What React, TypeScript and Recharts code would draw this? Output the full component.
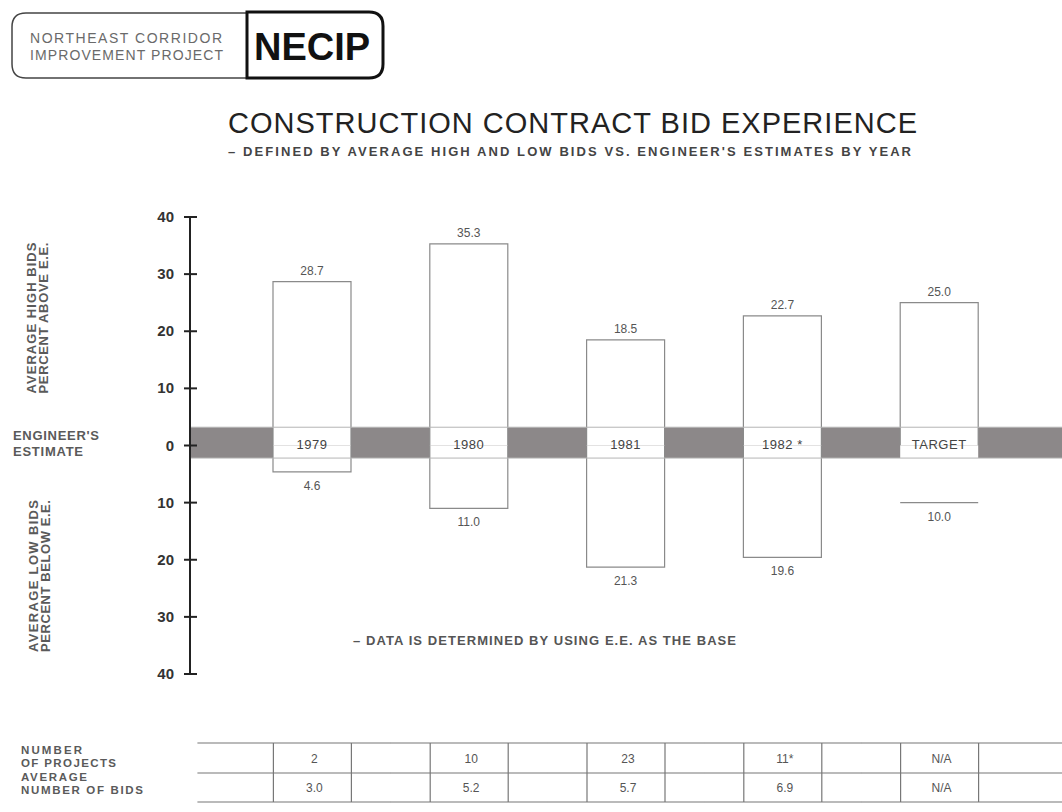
import {
  ComposedChart,
  Bar,
  XAxis,
  YAxis,
  ReferenceArea,
  ReferenceLine,
  LabelList,
} from 'recharts';

const years = ['1979', '1980', '1981', '1982 *', 'TARGET'];
const highBids = [28.7, 35.3, 18.5, 22.7, 25.0];
const lowBids = [4.6, 11.0, 21.3, 19.6, 10.0];
const projectCounts = ['2', '10', '23', '11*', 'N/A'];
const averageBidCounts = ['3.0', '5.2', '5.7', '6.9', 'N/A'];
const yTicks = [-40, -30, -20, -10, 0, 10, 20, 30, 40];

const rows = years.map((year, i) => ({
  year,
  high: highBids[i],
  low: -lowBids[i],
}));

const FONT = '"Liberation Sans", Arial, Helvetica, sans-serif';
const BAND_COLOR = '#8c8889';
const BOX_STROKE = '#8a8a8a';

function BidBox(props: any) {
  const { x, y, width, height, kind, payload } = props;
  const top = Math.min(y, y + height);
  const bottom = Math.max(y, y + height);
  const left = x;
  const right = x + width;
  let d: string;
  if (kind === 'high') {
    d = `M${left},${bottom}V${top}H${right}V${bottom}`;
  } else if (payload && payload.year === 'TARGET') {
    // target low is only marked by its bottom edge
    d = `M${left},${bottom}H${right}`;
  } else {
    d = `M${left},${top}V${bottom}H${right}V${top}`;
  }
  return (
    <g>
      <rect x={left} y={top} width={width} height={bottom - top} fill="#fff" />
      <path d={d} fill="none" stroke={BOX_STROKE} strokeWidth={1.2} />
    </g>
  );
}

function HighValueLabel(props: any) {
  const { x, y, width, height, value } = props;
  const top = Math.min(y, y + height);
  return (
    <text x={x + width / 2} y={top - 7} textAnchor="middle" fontSize={12} fill="#555" fontFamily={FONT}>
      {Math.abs(Number(value)).toFixed(1)}
    </text>
  );
}

function LowValueLabel(props: any) {
  const { x, y, width, height, value } = props;
  const bottom = Math.max(y, y + height);
  return (
    <text x={x + width / 2} y={bottom + 18} textAnchor="middle" fontSize={12} fill="#555" fontFamily={FONT}>
      {Math.abs(Number(value)).toFixed(1)}
    </text>
  );
}

function YearLabel(props: any) {
  const { x, y, width, height, value } = props;
  const base = Math.max(y, y + height);
  return (
    <text x={x + width / 2} y={base + 3} textAnchor="middle" fontSize={13} fill="#444" fontFamily={FONT} letterSpacing={0.5}>
      {value}
    </text>
  );
}

function YTick(props: any) {
  const { x, y, payload } = props;
  return (
    <g>
      <line x1={x - 6} x2={x + 7} y1={y} y2={y} stroke="#222" strokeWidth={2} />
      <text x={x - 16} y={y + 5} textAnchor="end" fontSize={15} fontWeight="bold" fill="#333" fontFamily={FONT}>
        {Math.abs(payload.value)}
      </text>
    </g>
  );
}

// the little table under the chart, one column per category
function TableTick(props: any) {
  const { x, y, index } = props;
  const rowLines = [69, 99, 128];
  const half = 39;
  const slotL = index === 0 ? x - 115 : x - 78.5;
  const slotR = index === years.length - 1 ? x + 125 : x + 78.5;
  return (
    <g>
      {rowLines.map((dy) => (
        <line key={dy} x1={slotL} x2={slotR} y1={y + dy} y2={y + dy} stroke="#777" strokeWidth={1.2} />
      ))}
      {[x - half, x + half].map((lx) => (
        <line key={lx} x1={lx} x2={lx} y1={y + 69} y2={y + 128} stroke="#777" strokeWidth={1.2} />
      ))}
      <text x={x + 2} y={y + 89} textAnchor="middle" fontSize={12} fill="#555" fontFamily={FONT}>
        {projectCounts[index]}
      </text>
      <text x={x + 2} y={y + 118} textAnchor="middle" fontSize={12} fill="#555" fontFamily={FONT}>
        {averageBidCounts[index]}
      </text>
    </g>
  );
}

function Overlay() {
  const side = { fontFamily: FONT, fontWeight: 'bold' as const, fontSize: 13, fill: '#5a5a5a' };
  const small = { ...side, fontSize: 11.5 };
  return (
    <svg width={1062} height={812} style={{ position: 'absolute', left: 0, top: 0, pointerEvents: 'none' }}>
      <path d="M247,13 H26 Q12,13 12,27 V64 Q12,78 26,78 H247" fill="none" stroke="#444" strokeWidth={1.5} />
      <path d="M247,12 H369 Q383,12 383,26 V64 Q383,78 369,78 H247 Z" fill="none" stroke="#111" strokeWidth={3} />
      <text x={30} y={43} fontFamily={FONT} fontSize={14} fill="#6a6a6a" textLength={192} lengthAdjust="spacing">
        NORTHEAST CORRIDOR
      </text>
      <text x={30} y={60} fontFamily={FONT} fontSize={14} fill="#6a6a6a" textLength={193} lengthAdjust="spacing">
        IMPROVEMENT PROJECT
      </text>
      <text x={254} y={60} fontFamily={FONT} fontSize={38} fontWeight="bold" fill="#111">
        NECIP
      </text>

      <text x={228} y={133} fontFamily={FONT} fontSize={29} fill="#222" textLength={689} lengthAdjust="spacing">
        CONSTRUCTION CONTRACT BID EXPERIENCE
      </text>
      <text x={228} y={156} fontFamily={FONT} fontSize={13} fontWeight="bold" fill="#444" textLength={683} lengthAdjust="spacing">
        – DEFINED BY AVERAGE HIGH AND LOW BIDS VS. ENGINEER'S ESTIMATES BY YEAR
      </text>

      <g transform="translate(36,318) rotate(-90)">
        <text x={0} y={0} textAnchor="middle" {...side} textLength={151} lengthAdjust="spacing">AVERAGE HIGH BIDS</text>
        <text x={0} y={12} textAnchor="middle" {...side} textLength={151} lengthAdjust="spacing">PERCENT ABOVE E.E.</text>
      </g>
      <text x={13} y={440} {...side} textLength={86} lengthAdjust="spacing">ENGINEER'S</text>
      <text x={13} y={456} {...side} textLength={70} lengthAdjust="spacing">ESTIMATE</text>
      <g transform="translate(38,576) rotate(-90)">
        <text x={0} y={0} textAnchor="middle" {...side} textLength={152} lengthAdjust="spacing">AVERAGE LOW BIDS</text>
        <text x={0} y={12} textAnchor="middle" {...side} textLength={152} lengthAdjust="spacing">PERCENT BELOW E.E.</text>
      </g>

      <text x={353} y={645} fontFamily={FONT} fontSize={13} fontWeight="bold" fill="#555" textLength={383} lengthAdjust="spacing">
        – DATA IS DETERMINED BY USING E.E. AS THE BASE
      </text>

      <text x={21} y={754} {...small} textLength={61} lengthAdjust="spacing">NUMBER</text>
      <text x={21} y={767} {...small} textLength={95} lengthAdjust="spacing">OF PROJECTS</text>
      <text x={21} y={781} {...small} textLength={66} lengthAdjust="spacing">AVERAGE</text>
      <text x={21} y={794} {...small} textLength={122} lengthAdjust="spacing">NUMBER OF BIDS</text>
    </svg>
  );
}

export default function App() {
  return (
    <div style={{ position: 'absolute', left: 0, top: 0, width: 1062, height: 812, background: '#fff', overflow: 'hidden' }}>
      <ComposedChart
        width={1062}
        height={812}
        data={rows}
        stackOffset="sign"
        margin={{ top: 217, right: 0, bottom: 0, left: 0 }}
      >
        <XAxis
          dataKey="year"
          height={138}
          padding={{ left: 44, right: 44 }}
          axisLine={false}
          tickLine={false}
          tickSize={0}
          tickMargin={0}
          interval={0}
          tick={<TableTick />}
        />
        {/* unpadded helper axis so the estimate band runs the full plot width */}
        <XAxis xAxisId="full" type="number" domain={[0, 1]} hide />
        <YAxis
          type="number"
          domain={[-40, 40]}
          ticks={yTicks}
          interval={0}
          width={190}
          axisLine={{ stroke: '#222', strokeWidth: 2 }}
          tickLine={false}
          tickSize={0}
          tickMargin={0}
          tick={<YTick />}
          allowDataOverflow
        />
        <ReferenceArea xAxisId="full" y1={-2.2} y2={3.2} fill={BAND_COLOR} fillOpacity={1} stroke="none" />
        <Bar
          dataKey="high"
          stackId="bid"
          barSize={78}
          isAnimationActive={false}
          shape={(p: any) => <BidBox {...p} kind="high" />}
        >
          <LabelList dataKey="high" content={<HighValueLabel />} />
          <LabelList dataKey="year" content={<YearLabel />} />
        </Bar>
        <Bar
          dataKey="low"
          stackId="bid"
          barSize={78}
          isAnimationActive={false}
          shape={(p: any) => <BidBox {...p} kind="low" />}
        >
          <LabelList dataKey="low" content={<LowValueLabel />} />
        </Bar>
        <ReferenceLine xAxisId="full" y={3.2} stroke="#b5b5b5" strokeWidth={1} />
        <ReferenceLine xAxisId="full" y={-2.2} stroke="#b5b5b5" strokeWidth={1} />
      </ComposedChart>
      <Overlay />
    </div>
  );
}
